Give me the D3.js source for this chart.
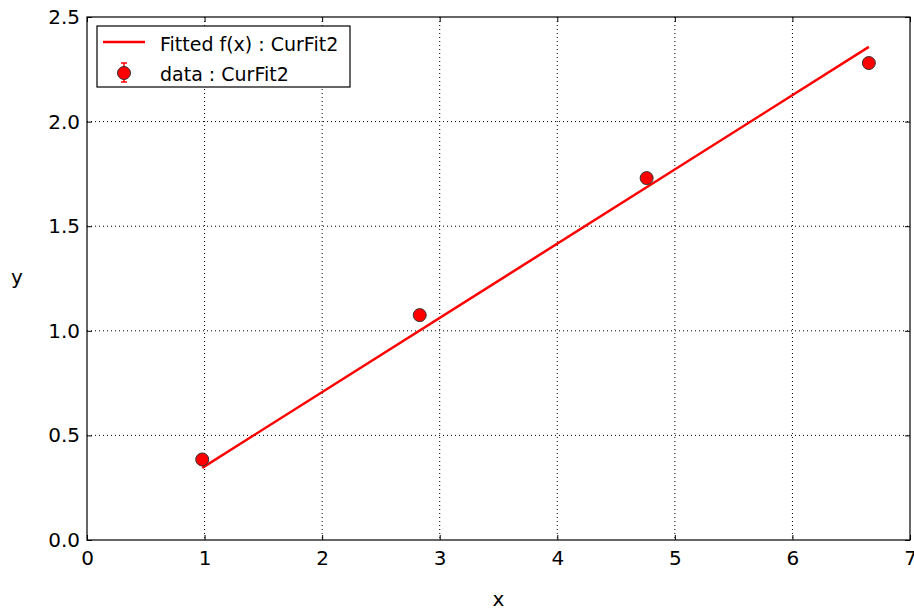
<!DOCTYPE html>
<html><head><meta charset="utf-8">
<script src="https://cdn.jsdelivr.net/npm/d3@7"></script>
<style>body{margin:0;background:#fff;}svg{display:block;font-family:"DejaVu Sans",sans-serif;}</style>
</head><body><svg id="c" width="914" height="610"></svg>
<script>
const dataX = [0.98, 2.83, 4.76, 6.65];
const dataY = [0.385, 1.075, 1.73, 2.28];
const dataErr = [0.02, 0.02, 0.02, 0.02];
const fitX = [0.98, 6.65];
const fitY = [0.345, 2.357];
const xTicks = [0,1,2,3,4,5,6,7];
const yTicks = [0.0,0.5,1.0,1.5,2.0,2.5];
const legendLabels = ["Fitted f(x) : CurFit2", "data : CurFit2"];

const svg = d3.select("#c");
const L=87, R=910, T=17, B=540;
const x = d3.scaleLinear().domain([0,7]).range([L,R]);
const y = d3.scaleLinear().domain([0,2.5]).range([B,T]);

// grid
const g = svg.append("g");
g.selectAll(".gx").data(xTicks.slice(1,-1)).enter().append("line")
 .attr("x1",d=>x(d)).attr("x2",d=>x(d)).attr("y1",T).attr("y2",B)
 .attr("stroke","#000").attr("stroke-width",1).attr("stroke-dasharray","1,3");
g.selectAll(".gy").data(yTicks.slice(1,-1)).enter().append("line")
 .attr("y1",d=>y(d)).attr("y2",d=>y(d)).attr("x1",L).attr("x2",R)
 .attr("stroke","#000").attr("stroke-width",1).attr("stroke-dasharray","1,3");

// axes
const xa = svg.append("g").attr("transform",`translate(0,${B})`)
 .call(d3.axisBottom(x).tickValues(xTicks).tickFormat(d3.format("d")).tickSizeInner(-5).tickSizeOuter(0).tickPadding(11));
const xa2 = svg.append("g").attr("transform",`translate(0,${T})`)
 .call(d3.axisTop(x).tickValues(xTicks).tickFormat("").tickSizeInner(-5).tickSizeOuter(0));
const ya = svg.append("g").attr("transform",`translate(${L},0)`)
 .call(d3.axisLeft(y).tickValues(yTicks).tickFormat(d3.format(".1f")).tickSizeInner(-5).tickSizeOuter(0).tickPadding(7));
const ya2 = svg.append("g").attr("transform",`translate(${R},0)`)
 .call(d3.axisRight(y).tickValues(yTicks).tickFormat("").tickSizeInner(-5).tickSizeOuter(0));
[xa,xa2,ya,ya2].forEach(a=>{a.select(".domain").remove();a.selectAll("text").attr("font-size",20).attr("fill","#000").attr("font-family","DejaVu Sans");a.selectAll("line").attr("stroke","#000");});
svg.append("rect").attr("x",L).attr("y",T).attr("width",R-L).attr("height",B-T)
 .attr("fill","none").attr("stroke","#000").attr("stroke-width",1.2);

// fit line
svg.append("path").datum(fitX.map((d,i)=>[d,fitY[i]]))
 .attr("d",d3.line().x(d=>x(d[0])).y(d=>y(d[1])))
 .attr("stroke","#ff0000").attr("stroke-width",2.5).attr("fill","none");

// error bars + points
const pts = dataX.map((d,i)=>({x:d,y:dataY[i],e:dataErr[i]}));
svg.selectAll(".eb").data(pts).enter().append("line")
 .attr("x1",d=>x(d.x)).attr("x2",d=>x(d.x)).attr("y1",d=>y(d.y-d.e)).attr("y2",d=>y(d.y+d.e))
 .attr("stroke","#ff0000").attr("stroke-width",1.5);
svg.selectAll(".pt").data(pts).enter().append("circle")
 .attr("cx",d=>x(d.x)).attr("cy",d=>y(d.y)).attr("r",6.5)
 .attr("fill","#ff0000").attr("stroke","#333").attr("stroke-width",1);

// axis labels
svg.append("text").attr("x",(L+R)/2).attr("y",606).attr("text-anchor","middle").attr("font-size",20).text("x");
svg.append("text").attr("x",17).attr("y",284).attr("text-anchor","middle").attr("font-size",20).text("y");

// legend
const lg = svg.append("g");
lg.append("rect").attr("x",97).attr("y",26).attr("width",253).attr("height",61)
 .attr("fill","#fff").attr("stroke","#000").attr("stroke-width",1.2);
lg.append("line").attr("x1",103).attr("x2",145).attr("y1",42).attr("y2",42).attr("stroke","#ff0000").attr("stroke-width",2.5);
lg.append("line").attr("x1",124).attr("x2",124).attr("y1",63).attr("y2",82).attr("stroke","#ff0000").attr("stroke-width",1.5);
lg.append("line").attr("x1",121).attr("x2",127).attr("y1",63).attr("y2",63).attr("stroke","#ff0000").attr("stroke-width",1.5);
lg.append("line").attr("x1",121).attr("x2",127).attr("y1",82).attr("y2",82).attr("stroke","#ff0000").attr("stroke-width",1.5);
lg.append("circle").attr("cx",124).attr("cy",73).attr("r",6.5).attr("fill","#ff0000").attr("stroke","#333");
lg.selectAll(".lt").data(legendLabels).enter().append("text")
 .attr("x",160).attr("y",(d,i)=>50.5+i*30.5).attr("font-size",19).text(d=>d);
</script></body></html>
